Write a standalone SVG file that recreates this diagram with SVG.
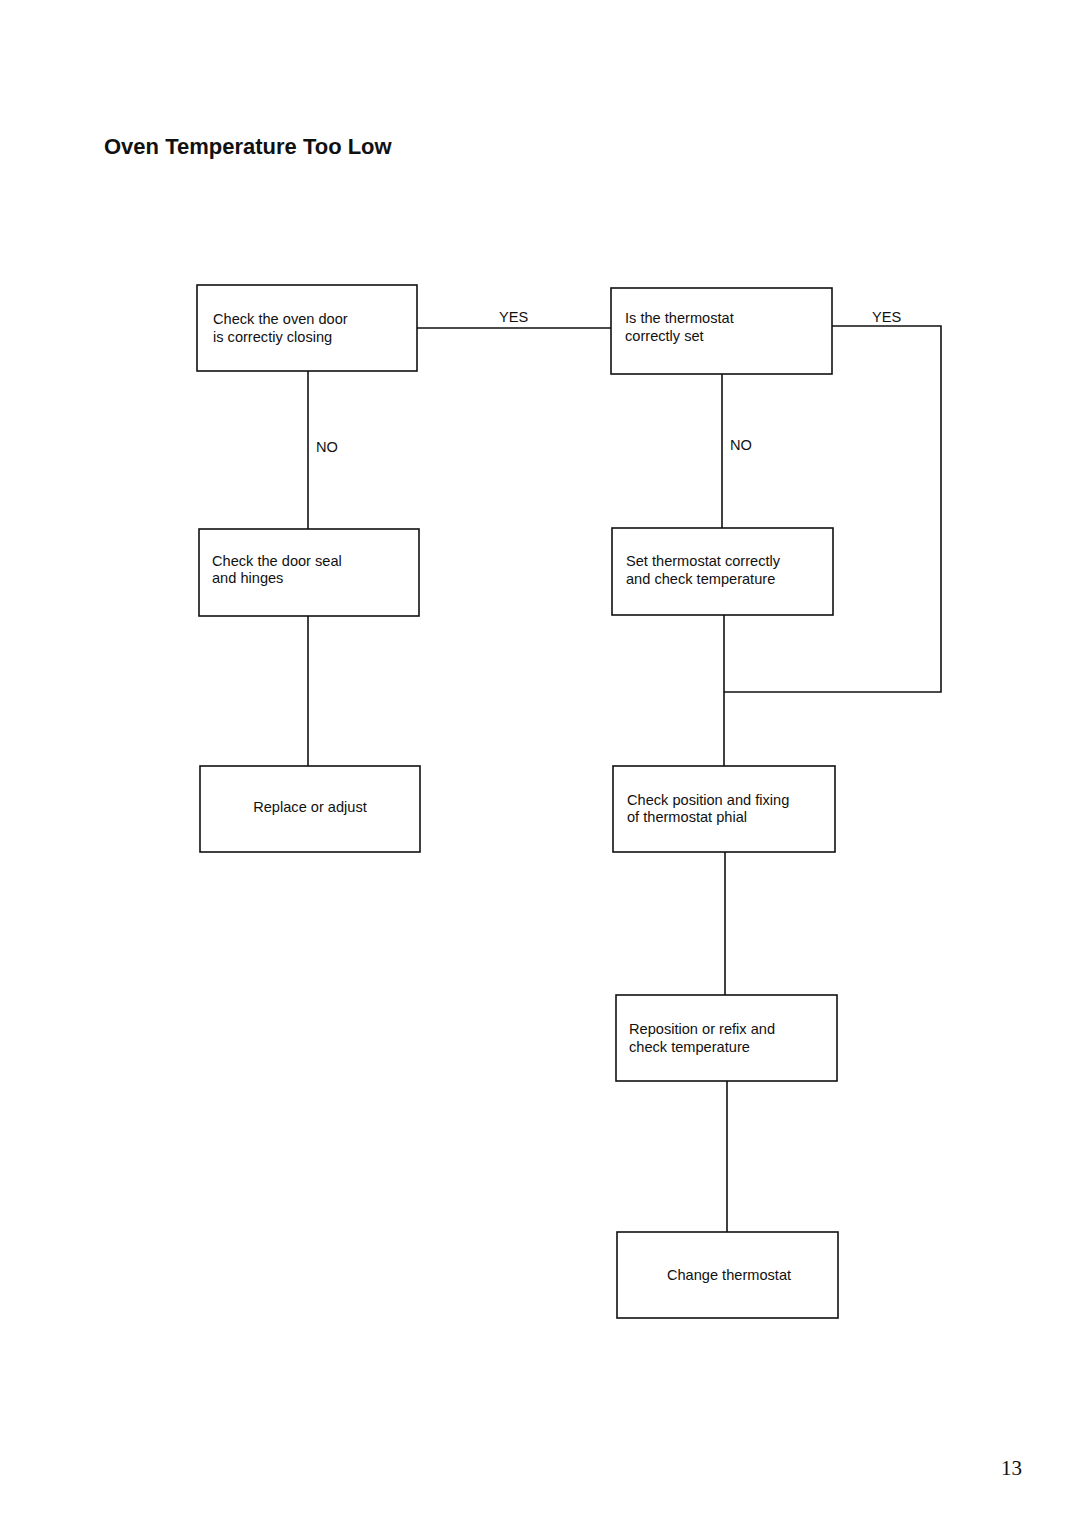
<svg xmlns="http://www.w3.org/2000/svg" width="1080" height="1528" viewBox="0 0 1080 1528">
<style>
.box{fill:#fff;stroke:#111;stroke-width:1.6}
.t{font-family:"Liberation Sans",Arial,sans-serif;font-size:14.6px;fill:#111}
.c{fill:none;stroke:#111;stroke-width:1.6}
</style>
<rect width="1080" height="1528" fill="#fff"/>
<text x="104" y="154" font-family="Liberation Sans,Arial,sans-serif" font-size="22" font-weight="bold" fill="#111">Oven Temperature Too Low</text>
<g id="connectors">
<line class="c" x1="417" y1="328" x2="611" y2="328"/>
<polyline class="c" points="832,326 941,326 941,692 724,692"/>
<line class="c" x1="308" y1="371" x2="308" y2="529"/>
<line class="c" x1="722" y1="374" x2="722" y2="528"/>
<line class="c" x1="308" y1="616" x2="308" y2="766"/>
<line class="c" x1="724" y1="615" x2="724" y2="766"/>
<line class="c" x1="725" y1="852" x2="725" y2="995"/>
<line class="c" x1="727" y1="1081" x2="727" y2="1232"/>
<text class="t" x="499" y="322">YES</text>
<text class="t" x="872" y="322">YES</text>
<text class="t" x="316" y="452">NO</text>
<text class="t" x="730" y="450">NO</text>
</g>
<g id="n1"><rect class="box" x="197" y="285" width="220" height="86"/><text class="t" x="213" y="324">Check the oven door</text><text class="t" x="213" y="342">is correctiy closing</text></g>
<g id="n2"><rect class="box" x="611" y="288" width="221" height="86"/><text class="t" x="625" y="323">Is the thermostat</text><text class="t" x="625" y="341">correctly set</text></g>
<g id="n3"><rect class="box" x="199" y="529" width="220" height="87"/><text class="t" x="212" y="566">Check the door seal</text><text class="t" x="212" y="583">and hinges</text></g>
<g id="n4"><rect class="box" x="612" y="528" width="221" height="87"/><text class="t" x="626" y="566">Set thermostat correctly</text><text class="t" x="626" y="584">and check temperature</text></g>
<g id="n5"><rect class="box" x="200" y="766" width="220" height="86"/><text class="t" x="310" y="812" text-anchor="middle">Replace or adjust</text></g>
<g id="n6"><rect class="box" x="613" y="766" width="222" height="86"/><text class="t" x="627" y="805">Check position and fixing</text><text class="t" x="627" y="822">of thermostat phial</text></g>
<g id="n7"><rect class="box" x="616" y="995" width="221" height="86"/><text class="t" x="629" y="1034">Reposition or refix and</text><text class="t" x="629" y="1052">check temperature</text></g>
<g id="n8"><rect class="box" x="617" y="1232" width="221" height="86"/><text class="t" x="729" y="1280" text-anchor="middle">Change thermostat</text></g>
<text x="1001" y="1475" font-family="Liberation Serif,Times New Roman,serif" font-size="21" fill="#111">13</text>
</svg>
